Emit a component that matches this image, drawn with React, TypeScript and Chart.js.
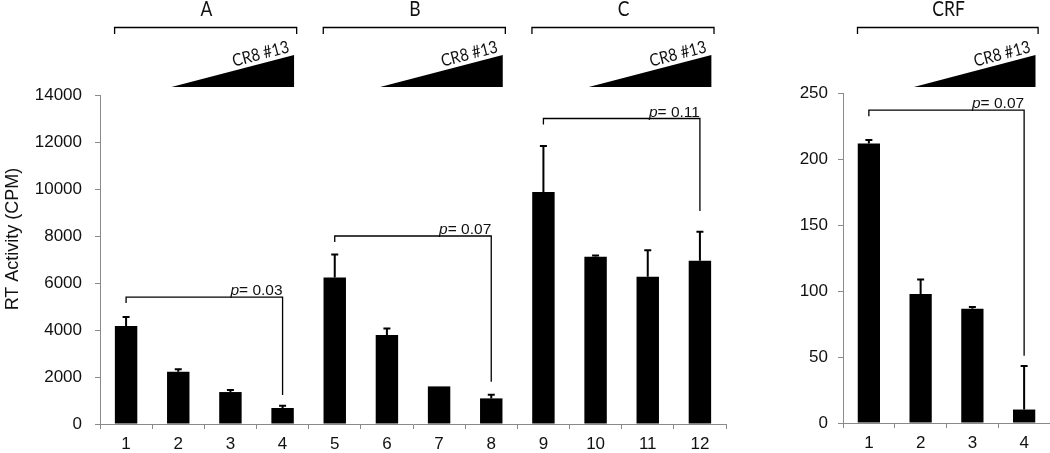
import React, { useEffect, useRef } from 'react';
import { Chart, registerables } from 'chart.js';

Chart.register(...registerables);

// ---------- data ----------
const mainCategories = ['1', '2', '3', '4', '5', '6', '7', '8', '9', '10', '11', '12'];
const mainValues = [4170, 2225, 1360, 680, 6230, 3790, 1600, 1090, 9870, 7120, 6270, 6950];
const mainErrors = [380, 100, 90, 100, 980, 270, 0, 150, 1960, 50, 1120, 1230];
const mainYTicks = [0, 2000, 4000, 6000, 8000, 10000, 12000, 14000];

const crfCategories = ['1', '2', '3', '4'];
const crfValues = [211.7, 97.7, 86.5, 10.2];
const crfErrors = [2.7, 11, 1.3, 33];
const crfYTicks = [0, 50, 100, 150, 200, 250];

const mainGroups = [
  { name: 'A', first: 0, last: 3 },
  { name: 'B', first: 4, last: 7 },
  { name: 'C', first: 8, last: 11 },
];
const crfGroups = [{ name: 'CRF', first: 0, last: 3 }];

const mainComparisons = [
  { from: 0, to: 3, level: 5400, end: 1230, p: '0.03' },
  { from: 4, to: 7, level: 8000, end: 1800, p: '0.07' },
  { from: 8, to: 11, level: 13000, end: 9060, p: '0.11' },
];
const crfComparisons = [{ from: 0, to: 3, level: 237, end: 51, p: '0.07' }];

const doseLabel = 'CR8 #13';
const yTitle = 'RT Activity (CPM)';

// ---------- styling ----------
const AXIS = '#8a8a8a';
const TEXT = '#111';
const SANS = "'Liberation Sans', Arial, sans-serif";
const HUMAN = "Lato, 'Open Sans', sans-serif";

Chart.defaults.font.family = SANS;

function makeOverlay(groups: any[], comparisons: any[], errors: number[], showTitle: boolean) {
  return {
    id: 'overlay',
    afterDatasetsDraw(chart: any) {
      const ctx: CanvasRenderingContext2D = chart.ctx;
      const xs = chart.scales.x;
      const ys = chart.scales.y;
      const step = xs.getPixelForValue(1) - xs.getPixelForValue(0);
      const px = (v: number) => xs.getPixelForValue(0) + v * step;
      const values = chart.data.datasets[0].data as number[];
      ctx.save();

      // error bars (upper only)
      const meta = chart.getDatasetMeta(0);
      ctx.strokeStyle = '#000';
      ctx.lineWidth = 2;
      meta.data.forEach((bar: any, i: number) => {
        const e = errors[i];
        if (!e) return;
        const yTop = ys.getPixelForValue(values[i] + e);
        ctx.beginPath();
        ctx.moveTo(bar.x, bar.y);
        ctx.lineTo(bar.x, yTop);
        ctx.moveTo(bar.x - 3.5, yTop);
        ctx.lineTo(bar.x + 3.5, yTop);
        ctx.stroke();
      });

      // group brackets, labels, dose triangles
      groups.forEach((g) => {
        const bl = px(g.first - 0.22);
        const br = px(g.last + 0.27);
        ctx.strokeStyle = '#000';
        ctx.lineWidth = 1.3;
        ctx.beginPath();
        ctx.moveTo(bl, 34);
        ctx.lineTo(bl, 27.5);
        ctx.lineTo(br, 27.5);
        ctx.lineTo(br, 34);
        ctx.stroke();

        ctx.save();
        ctx.translate(px((g.first + g.last) / 2) + 2, 9);
        ctx.scale(1, 1.18);
        ctx.fillStyle = TEXT;
        ctx.font = `17.5px ${HUMAN}`;
        ctx.textAlign = 'center';
        ctx.textBaseline = 'middle';
        ctx.fillText(g.name, 0, 0);
        ctx.restore();

        const tl = px(g.first + 0.87);
        const tr = px(g.last + 0.22);
        const tTop = 55;
        const tBot = 87;
        ctx.fillStyle = '#000';
        ctx.beginPath();
        ctx.moveTo(tl, tBot);
        ctx.lineTo(tr, tBot);
        ctx.lineTo(tr, tTop);
        ctx.closePath();
        ctx.fill();

        const ang = Math.atan2(tBot - tTop, tr - tl);
        ctx.save();
        const ax = tr - 4;
        const ay = tTop + (4 / (tr - tl)) * (tBot - tTop) - 4;
        ctx.translate(ax, ay);
        ctx.rotate(-ang);
        ctx.scale(1, 1.15);
        ctx.font = `20px ${HUMAN}`;
        const w = ctx.measureText(doseLabel).width;
        const fs = (20 * 58) / w;
        ctx.font = `${fs}px ${HUMAN}`;
        ctx.fillStyle = TEXT;
        ctx.textAlign = 'right';
        ctx.textBaseline = 'alphabetic';
        ctx.fillText(doseLabel, 0, 0);
        ctx.restore();
      });

      // p-value comparison brackets
      comparisons.forEach((c) => {
        const xl = px(c.from);
        const xr = px(c.to);
        const yl = ys.getPixelForValue(c.level);
        const ye = ys.getPixelForValue(c.end);
        ctx.strokeStyle = '#000';
        ctx.lineWidth = 1.3;
        ctx.beginPath();
        ctx.moveTo(xl, yl + 6);
        ctx.lineTo(xl, yl);
        ctx.lineTo(xr, yl);
        ctx.lineTo(xr, ye);
        ctx.stroke();

        const rest = '= ' + c.p;
        ctx.fillStyle = TEXT;
        ctx.textBaseline = 'alphabetic';
        ctx.textAlign = 'left';
        ctx.font = `15.5px ${SANS}`;
        const wRest = ctx.measureText(rest).width;
        ctx.font = `italic 15.5px ${SANS}`;
        const wP = ctx.measureText('p').width;
        const start = xr - wRest - wP;
        ctx.fillText('p', start, yl - 2);
        ctx.font = `15.5px ${SANS}`;
        ctx.fillText(rest, start + wP, yl - 2);
      });

      if (showTitle) {
        ctx.save();
        ctx.translate(13, 239);
        ctx.rotate(-Math.PI / 2);
        ctx.font = `18px ${SANS}`;
        ctx.fillStyle = TEXT;
        ctx.textAlign = 'center';
        ctx.textBaseline = 'middle';
        ctx.fillText(yTitle, 0, 0);
        ctx.restore();
      }
      ctx.restore();
    },
  };
}

function buildConfig(
  labels: string[],
  values: number[],
  errors: number[],
  yTicks: number[],
  groups: any[],
  comparisons: any[],
  dims: { yWidth: number; xHeight: number; top: number; right: number; labelPad: number },
  showTitle: boolean
): any {
  const tickFont = { family: SANS, size: 17 };
  return {
    type: 'bar',
    data: {
      labels,
      datasets: [
        {
          data: values,
          backgroundColor: '#000',
          borderWidth: 0,
          barPercentage: 0.43,
          categoryPercentage: 1,
        },
      ],
    },
    options: {
      responsive: false,
      maintainAspectRatio: false,
      animation: false,
      layout: { padding: { top: dims.top, right: dims.right, left: 0, bottom: 0 } },
      plugins: { legend: { display: false }, tooltip: { enabled: false }, title: { display: false } },
      scales: {
        x: {
          grid: { display: true, drawOnChartArea: false, drawTicks: true, tickLength: 5, color: AXIS, offset: true },
          border: { display: true, color: AXIS, width: 1 },
          ticks: { color: TEXT, font: tickFont, padding: 5, maxRotation: 0, autoSkip: false },
          afterFit: (s: any) => {
            s.height = dims.xHeight;
          },
        },
        y: {
          min: yTicks[0],
          max: yTicks[yTicks.length - 1],
          grid: { display: true, drawOnChartArea: false, drawTicks: true, tickLength: 5, color: AXIS },
          border: { display: true, color: AXIS, width: 1 },
          ticks: { color: TEXT, font: tickFont, padding: dims.labelPad, callback: (v: any) => String(v) },
          afterBuildTicks: (s: any) => {
            s.ticks = yTicks.map((v) => ({ value: v }));
          },
          afterFit: (s: any) => {
            s.width = dims.yWidth;
          },
        },
      },
    },
    plugins: [makeOverlay(groups, comparisons, errors, showTitle)],
  };
}

export default function App() {
  const leftRef = useRef<HTMLCanvasElement>(null);
  const rightRef = useRef<HTMLCanvasElement>(null);

  useEffect(() => {
    const left = new Chart(
      leftRef.current as HTMLCanvasElement,
      buildConfig(
        mainCategories,
        mainValues,
        mainErrors,
        mainYTicks,
        mainGroups,
        mainComparisons,
        { yWidth: 100, xHeight: 29, top: 95, right: 14, labelPad: 13 },
        true
      )
    );
    const right = new Chart(
      rightRef.current as HTMLCanvasElement,
      buildConfig(
        crfCategories,
        crfValues,
        crfErrors,
        crfYTicks,
        crfGroups,
        crfComparisons,
        { yWidth: 83, xHeight: 30, top: 93, right: 0, labelPad: 10 },
        false
      )
    );
    return () => {
      left.destroy();
      right.destroy();
    };
  }, []);

  return (
    <div style={{ position: 'absolute', left: 0, top: 0, width: 1050, height: 453, background: '#fff' }}>
      <canvas ref={leftRef} width={740} height={453} style={{ position: 'absolute', left: 0, top: 0 }} />
      <canvas ref={rightRef} width={290} height={453} style={{ position: 'absolute', left: 760, top: 0 }} />
    </div>
  );
}
